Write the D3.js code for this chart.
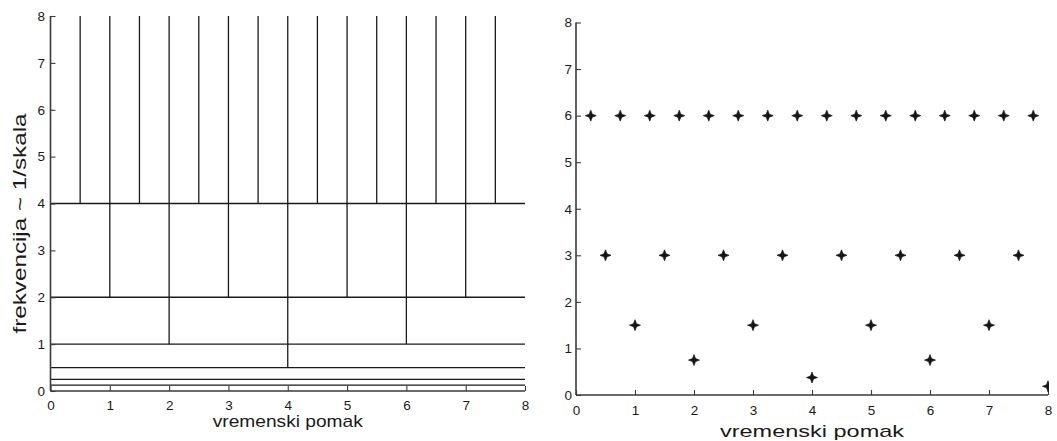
<!DOCTYPE html>
<html>
<head>
<meta charset="utf-8">
<script src="https://cdn.jsdelivr.net/npm/d3@7"></script>
<style>
  html, body { margin: 0; padding: 0; background: #fff; }
  svg { display: block; }
  text { font-family: "Liberation Sans", Arial, Helvetica, sans-serif; fill: #1a1a1a; }
</style>
</head>
<body>
<svg id="chart" width="1057" height="441"></svg>
<script>
// Tick values shared by both panels
const xTickValues = [0, 1, 2, 3, 4, 5, 6, 7, 8];
const yTickValues = [0, 1, 2, 3, 4, 5, 6, 7, 8];

// Left panel: dyadic time-frequency tiling
const bandEdges = [4, 2, 1, 0.5, 0.25, 0.125];          // horizontal band boundaries
const bandTops = [8, 4, 2, 1];                           // each band with vertical splits
const bandBottoms = [4, 2, 1, 0.5];
const bandSplits = [
  [0.5, 1, 1.5, 2, 2.5, 3, 3.5, 4, 4.5, 5, 5.5, 6, 6.5, 7, 7.5],
  [1, 2, 3, 4, 5, 6, 7],
  [2, 4, 6],
  [4]
];

// Right panel: tile centres (time shift, frequency)
const centreFreqs = [6, 3, 1.5, 0.75, 0.375, 0.1875];
const centreShifts = [
  [0.25, 0.75, 1.25, 1.75, 2.25, 2.75, 3.25, 3.75, 4.25, 4.75, 5.25, 5.75, 6.25, 6.75, 7.25, 7.75],
  [0.5, 1.5, 2.5, 3.5, 4.5, 5.5, 6.5, 7.5],
  [1, 3, 5, 7],
  [2, 6],
  [4],
  [8]
];

const xLabel = "vremenski pomak";
const yLabel = "frekvencija ~ 1/skala";

const svg = d3.select("#chart");
const axisColor = "#3a3a3a";
const lineColor = "#1a1a1a";

function drawAxes(g, x, y, opts) {
  const [x0, x1] = x.range();
  const [y0, y1] = y.range();
  // axis lines (left and bottom only)
  g.append("line").attr("x1", x0).attr("x2", x0).attr("y1", y0).attr("y2", y1)
    .attr("stroke", axisColor).attr("stroke-width", 1.6);
  g.append("line").attr("x1", x0).attr("x2", x1).attr("y1", y0).attr("y2", y0)
    .attr("stroke", axisColor).attr("stroke-width", 1.6);

  const xAxis = g.append("g").attr("transform", `translate(0,${y0})`)
    .call(d3.axisBottom(x).tickValues(xTickValues).tickSizeInner(-5).tickSizeOuter(0).tickPadding(opts.xPad));
  const yAxis = g.append("g").attr("transform", `translate(${x0},0)`)
    .call(d3.axisLeft(y).tickValues(yTickValues).tickSizeInner(-5).tickSizeOuter(0).tickPadding(opts.yPad));
  [xAxis, yAxis].forEach(a => {
    a.select(".domain").remove();
    a.selectAll("line").attr("stroke", axisColor).attr("stroke-width", 1.1);
    a.selectAll("text").style("font-family", "'Liberation Sans', Arial, sans-serif")
      .attr("font-size", 13.5).attr("fill", "#1a1a1a");
  });

  g.append("text")
    .attr("x", (x0 + x1) / 2)
    .attr("y", opts.labelY)
    .attr("text-anchor", "middle")
    .attr("font-size", 17)
    .attr("textLength", opts.labelLen)
    .attr("lengthAdjust", "spacingAndGlyphs")
    .text(xLabel);
}

// ---------- Left panel ----------
const xL = d3.scaleLinear().domain([0, 8]).range([50.5, 525]);
const yL = d3.scaleLinear().domain([0, 8]).range([391, 16]);
const gL = svg.append("g");

gL.selectAll("line.band")
  .data(bandEdges)
  .join("line")
  .attr("class", "band")
  .attr("x1", xL(0)).attr("x2", xL(8))
  .attr("y1", d => yL(d)).attr("y2", d => yL(d))
  .attr("stroke", lineColor).attr("stroke-width", 1.3);

bandSplits.forEach((splits, i) => {
  gL.selectAll(`line.split${i}`)
    .data(splits)
    .join("line")
    .attr("class", `split${i}`)
    .attr("x1", d => xL(d)).attr("x2", d => xL(d))
    .attr("y1", yL(bandBottoms[i])).attr("y2", yL(bandTops[i]))
    .attr("stroke", lineColor).attr("stroke-width", 1.3);
});

drawAxes(gL, xL, yL, { xPad: 9, yPad: 5.5, labelY: 427, labelLen: 150 });

gL.append("text")
  .attr("transform", `translate(26,${(yL(0) + yL(8)) / 2 + 20}) rotate(-90)`)
  .attr("text-anchor", "middle")
  .attr("font-size", 18)
  .attr("textLength", 220)
  .attr("lengthAdjust", "spacingAndGlyphs")
  .text(yLabel);

// ---------- Right panel ----------
const xR = d3.scaleLinear().domain([0, 8]).range([576, 1048]);
const yR = d3.scaleLinear().domain([0, 8]).range([395, 22.5]);
const gR = svg.append("g");

gR.append("clipPath").attr("id", "clipR")
  .append("rect")
  .attr("x", xR(0) - 6).attr("y", yR(8) - 6)
  .attr("width", xR(8) - xR(0) + 7).attr("height", yR(0) - yR(8) + 6);

drawAxes(gR, xR, yR, { xPad: 10, yPad: 4, labelY: 437, labelLen: 184 });

const points = centreFreqs.flatMap((f, i) => centreShifts[i].map(s => ({ s, f })));
const star = "M0,-5.5 L1.5,-1.5 L5.5,0 L1.5,1.5 L0,5.5 L-1.5,1.5 L-5.5,0 L-1.5,-1.5 Z";

gR.append("g").attr("clip-path", "url(#clipR)")
  .selectAll("path.pt")
  .data(points)
  .join("path")
  .attr("class", "pt")
  .attr("d", star)
  .attr("transform", d => `translate(${xR(d.s)},${yR(d.f)})`)
  .attr("fill", "#151515")
  .attr("stroke", "#151515")
  .attr("stroke-width", 0.7);
</script>
</body>
</html>
